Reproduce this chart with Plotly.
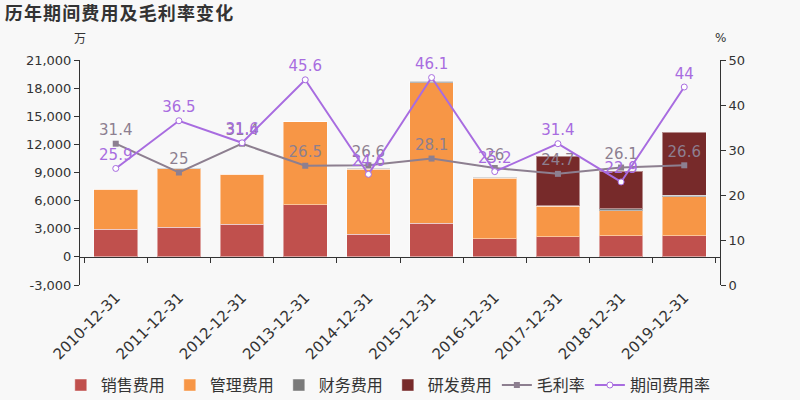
import plotly.graph_objects as go

categories = ["2010-12-31", "2011-12-31", "2012-12-31", "2013-12-31", "2014-12-31",
              "2015-12-31", "2016-12-31", "2017-12-31", "2018-12-31", "2019-12-31"]
sales = [2960, 3140, 3500, 5580, 2440, 3600, 1940, 2150, 2230, 2250]
admin = [4230, 6270, 5300, 8810, 6890, 14990, 6430, 3250, 2710, 4170]
finance = [50, 60, 30, 30, 140, 120, 100, 30, 180, 150]
rnd = [0, 0, 0, 0, 0, 0, 0, 5280, 4000, 6710]
gross_margin = [31.4, 25, 31.4, 26.5, 26.6, 28.1, 26, 24.7, 26.1, 26.6]
period_rate = [25.9, 36.5, 31.6, 45.6, 24.6, 46.1, 25.2, 31.4, 22.9, 44]
left_ticks = [-3000, 0, 3000, 6000, 9000, 12000, 15000, 18000, 21000]
left_tick_text = ["-3,000", "0", "3,000", "6,000", "9,000", "12,000", "15,000", "18,000", "21,000"]
title_text = "历年期间费用及毛利率变化"

FONT = "DejaVu Sans, Noto Sans CJK SC, sans-serif"
CJK = "Noto Sans CJK SC, DejaVu Sans, sans-serif"
edge = dict(color="rgba(255,255,255,0.45)", width=1)

fig = go.Figure()
fig.add_bar(x=categories, y=sales, name="销售费用", marker=dict(color="#c0504d", line=edge))
fig.add_bar(x=categories, y=admin, name="管理费用", marker=dict(color="#f79646", line=edge))
fig.add_bar(x=categories, y=finance, name="财务费用", marker=dict(color="#7a7a7a", line=edge))
fig.add_bar(x=categories, y=rnd, name="研发费用", marker=dict(color="#772a2a", line=edge))

fig.add_scatter(x=categories, y=gross_margin, name="毛利率", yaxis="y2",
                mode="lines+markers+text", text=[f"{v:g}" for v in gross_margin],
                textposition="top center", cliponaxis=False,
                textfont=dict(color="#8d7f90", size=15, family=FONT),
                line=dict(color="#8d7f90", width=2),
                marker=dict(symbol="square", size=6, color="#8d7f90"))
fig.add_scatter(x=categories, y=period_rate, name="期间费用率", yaxis="y2",
                mode="lines+markers+text", text=[f"{v:g}" for v in period_rate],
                textposition="top center", cliponaxis=False,
                textfont=dict(color="#a86ce0", size=15, family=FONT),
                line=dict(color="#a86ce0", width=2),
                marker=dict(symbol="circle", size=6, color="white",
                            line=dict(color="#a86ce0", width=1)))
# invisible trace to host the zero-line axis
fig.add_scatter(x=categories, y=[0] * len(categories), xaxis="x2", mode="markers",
                marker=dict(opacity=0), showlegend=False, hoverinfo="skip")

fig.update_layout(
    width=800, height=400,
    paper_bgcolor="#f8f8f8", plot_bgcolor="#f8f8f8",
    barmode="stack", bargap=0.31,
    margin=dict(l=80, r=80, t=60, b=115, autoexpand=False),
    font=dict(family=FONT, color="#333333", size=13),
    title=dict(text="<b>" + "\u200a".join(title_text) + "</b>", x=0.006, xanchor="left",
               y=0.967, yanchor="middle",
               font=dict(family=CJK, size=18, color="#333333")),
    xaxis=dict(type="category", showline=False, ticks="", showgrid=False, automargin=False,
               tickangle=-45, tickfont=dict(size=15, color="#333333")),
    xaxis2=dict(type="category", matches="x", overlaying="x", anchor="free", position=0.125,
                showline=True, linecolor="#333333", linewidth=1, ticks="outside",
                tickson="boundaries", ticklen=5, tickcolor="#333333", automargin=False,
                showticklabels=False, showgrid=False, side="bottom"),
    yaxis=dict(range=[-3000, 21000], tickvals=left_ticks, ticktext=left_tick_text,
               showgrid=False, automargin=False,
               showline=True, linecolor="#333333", ticks="outside", ticklen=5,
               tickcolor="#333333", zeroline=False, tickfont=dict(size=13)),
    yaxis2=dict(range=[0, 50], dtick=10, overlaying="y", side="right", showgrid=False,
                showline=True, linecolor="#333333", ticks="outside", ticklen=5,
                automargin=False,
                tickcolor="#333333", zeroline=False, tickfont=dict(size=13)),
    legend=dict(orientation="h", x=-0.03, xanchor="left", y=-0.445, yanchor="middle",
                font=dict(family=CJK, size=16, color="#333333"),
                itemwidth=30, tracegroupgap=0, traceorder="normal"),
    annotations=[
        dict(text="万", x=0, xref="paper", y=1.098, yref="paper", showarrow=False,
             font=dict(family=CJK, size=12, color="#333333"), xanchor="center",
             yanchor="middle"),
        dict(text="%", x=1, xref="paper", y=1.098, yref="paper", showarrow=False,
             font=dict(size=12, color="#333333"), xanchor="center", yanchor="middle"),
    ],
)

fig.write_html("out.html", config={"displayModeBar": False},
               post_script="document.body.style.margin='0';document.body.style.background='#f8f8f8';")
